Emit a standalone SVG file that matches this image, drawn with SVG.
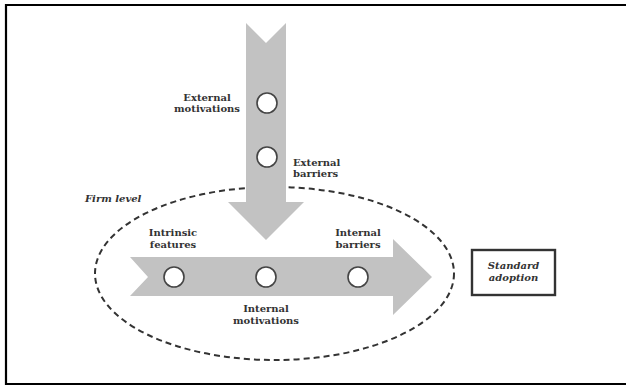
<svg xmlns="http://www.w3.org/2000/svg" width="626" height="386" viewBox="0 0 626 386">
  <style>
    .lbl { font-family: "DejaVu Serif", "Liberation Serif", serif; font-size: 10px; font-weight: bold; fill: #333; text-anchor: middle; }
    .lbl-start { text-anchor: start; }
    .ital { font-style: italic; }
    .flow { fill: #c2c2c2; }
    .node { fill: #fff; stroke: #444; stroke-width: 1.6; }
    .boundary { fill: none; stroke: #333; stroke-width: 2; stroke-dasharray: 6 4; }
  </style>

  <rect width="626" height="386" fill="#fff"/>
  <!-- frame -->
  <path d="M626,5 H6 V384 H626" fill="none" stroke="#000" stroke-width="2.2"/>

  <!-- firm level boundary -->
  <g id="firm-level">
    <ellipse class="boundary" cx="274.5" cy="273.5" rx="179.5" ry="86.5"/>
    <text class="lbl lbl-start ital" x="85" y="202">Firm level</text>
  </g>

  <g id="connectors">
    <!-- external flow (downward) -->
    <polygon class="flow" points="246,23 266,43 286,23 286,202 304,202 266,240 228,202 246,202"/>
    <!-- internal flow (to the right) -->
    <polygon class="flow" points="130,257 393,257 393,239 432,277 393,315 393,296 130,296 148,277"/>
  </g>

  <g id="external-motivations">
    <circle class="node" cx="267" cy="103" r="10"/>
    <text class="lbl" x="207" y="101">External</text>
    <text class="lbl" x="207" y="112">motivations</text>
  </g>

  <g id="external-barriers">
    <circle class="node" cx="267" cy="157" r="10"/>
    <text class="lbl lbl-start" x="293" y="166">External</text>
    <text class="lbl lbl-start" x="293" y="177">barriers</text>
  </g>

  <g id="intrinsic-features">
    <circle class="node" cx="174" cy="277" r="10"/>
    <text class="lbl" x="173" y="236">Intrinsic</text>
    <text class="lbl" x="173" y="248">features</text>
  </g>

  <g id="internal-motivations">
    <circle class="node" cx="266" cy="277" r="10"/>
    <text class="lbl" x="266" y="312">Internal</text>
    <text class="lbl" x="266" y="324">motivations</text>
  </g>

  <g id="internal-barriers">
    <circle class="node" cx="358" cy="277" r="10"/>
    <text class="lbl" x="358" y="236">Internal</text>
    <text class="lbl" x="358" y="248">barriers</text>
  </g>

  <g id="standard-adoption">
    <rect x="472" y="250" width="83" height="45" fill="#fff" stroke="#333" stroke-width="2.4"/>
    <text class="lbl ital" x="513.5" y="269">Standard</text>
    <text class="lbl ital" x="513.5" y="281">adoption</text>
  </g>
</svg>
